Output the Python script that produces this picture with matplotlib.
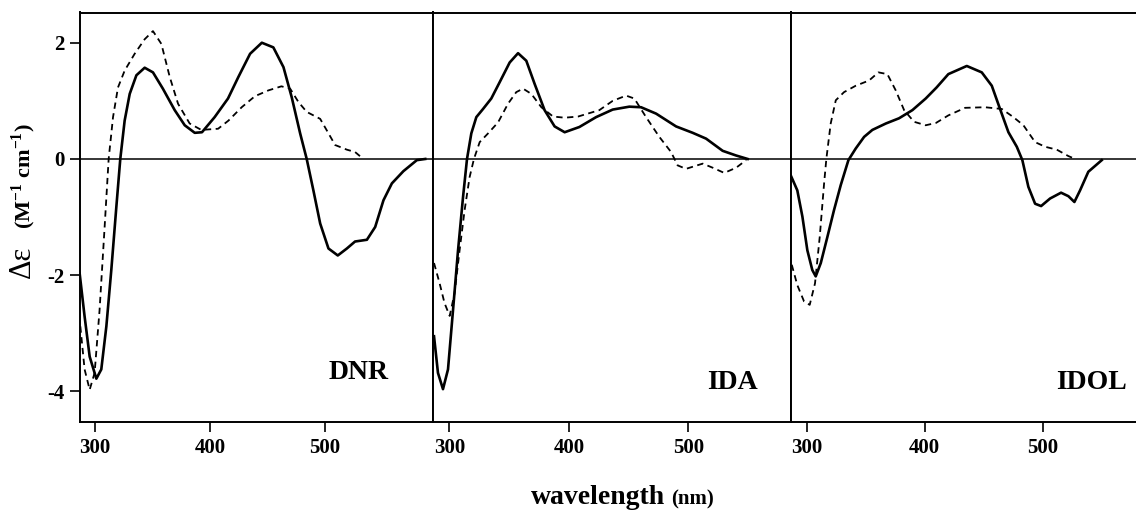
import matplotlib
matplotlib.use("Agg")
import matplotlib.pyplot as plt

# CD spectra (wavelength in nm, delta epsilon)
# solid = first spectrum, dashed = second spectrum
dnr_wl = [286.7, 291, 295.4, 301.2, 305.5, 309.9, 314.2, 318.6, 322, 325.8, 330.2, 336, 343.2,
          350.4, 359, 369.3, 378, 386.7, 393, 404, 415.6, 424.6, 434.8, 445, 455, 463.8, 471,
          478.3, 484, 489.8, 495.7, 502.9, 511, 518.9, 526, 536.3, 543.5, 550.7, 558, 568,
          579.7, 587]
dnr_de = [-1.97, -2.71, -3.40, -3.78, -3.62, -2.88, -1.91, -0.82, 0.0, 0.66, 1.12, 1.44, 1.57,
          1.49, 1.21, 0.84, 0.58, 0.45, 0.46, 0.72, 1.04, 1.41, 1.81, 2.0, 1.92, 1.58, 1.06,
          0.44, 0.0, -0.54, -1.11, -1.54, -1.66, -1.54, -1.42, -1.39, -1.17, -0.71, -0.42, -0.21,
          -0.02, 0.0]
dnr_wl2 = [287.3, 291, 295.4, 299.7, 304, 308.4, 311.9, 315.7, 320, 325.8, 334.5, 343.2, 350.4,
           357.7, 365, 372.2, 382.3, 392.4, 407, 416, 427.5, 439, 450.7, 462, 469.6, 476.8, 484,
           495.7, 501.5, 508.7, 518.9, 526, 532]
dnr_de2 = [-2.88, -3.62, -3.97, -3.68, -2.6, -1.17, 0.0, 0.72, 1.23, 1.52, 1.81, 2.06, 2.2,
           1.98, 1.41, 0.95, 0.61, 0.5, 0.52, 0.66, 0.89, 1.08, 1.18, 1.25, 1.21, 0.98, 0.81,
           0.69, 0.49, 0.24, 0.16, 0.12, 0.02]

ida_wl = [287.2, 290.5, 294.7, 298.9, 303.1, 307.3, 311.5, 314.8, 318.4, 322.6, 328.2, 335.1,
          342.1, 350.5, 357.5, 364.4, 371.4, 379.7, 388.1, 396.5, 408.8, 422.8, 436.7, 450.6,
          460.4, 473, 489.7, 503.6, 514.8, 528.7, 539.9, 549.6]
ida_de = [-3.05, -3.68, -3.96, -3.62, -2.6, -1.57, -0.65, 0.0, 0.44, 0.72, 0.86, 1.04,
          1.32, 1.66, 1.82, 1.69, 1.29, 0.84, 0.56, 0.46, 0.55, 0.72, 0.85, 0.9,
          0.89, 0.78, 0.56, 0.45, 0.35, 0.14, 0.06, 0.0]
ida_wl2 = [287.2, 291.9, 296, 300.3, 304.4, 308.6, 312.8, 317, 320.6, 325.4, 332.4, 340.8, 349.1,
           356, 361.7, 368.6, 377, 386.8, 396.5, 407.7, 425.5, 436.7, 447.9, 454.8, 464.6, 475.7,
           485.5, 491, 498, 512, 520.3, 530, 540, 548.3]
ida_de2 = [-1.79, -2.14, -2.48, -2.7, -2.31, -1.57, -0.88, -0.31, 0.0, 0.29, 0.44, 0.63, 0.95,
           1.15, 1.21, 1.12, 0.89, 0.73, 0.71, 0.73, 0.84, 1.0, 1.09, 1.04, 0.72, 0.38,
           0.12, -0.11, -0.17, -0.08, -0.15, -0.24, -0.15, -0.02]

idol_wl = [286.4, 292, 296.3, 300.5, 304.7, 307.6, 311.9, 317.5, 323.1, 328.8, 335.3, 341.5,
           348.6, 355.6, 367, 378.2, 389.5, 400.8, 410, 420, 435.6, 448.3, 456.8, 463.8, 470.9,
           478, 482.7, 487.8, 493.5, 498.6, 506.2, 515.5, 521.7, 526.8, 531.6, 538.6, 550]
idol_de = [-0.28, -0.54, -0.99, -1.57, -1.91, -2.02, -1.79, -1.34, -0.88, -0.45, -0.02, 0.18,
           0.38, 0.5, 0.61, 0.7, 0.84, 1.04, 1.23, 1.46, 1.6, 1.49, 1.26, 0.86, 0.46,
           0.21, -0.02, -0.48, -0.77, -0.81, -0.68, -0.58, -0.64, -0.74, -0.54, -0.22, -0.02]
idol_wl2 = [287.3, 292, 297.7, 302.5, 307, 311, 314.7, 316.6, 320.3, 324.6, 331.6, 341.5, 352.8,
            360.7, 368.3, 375.4, 382.5, 390.9, 400.8, 409.5, 420, 434.2, 451.1, 465.3, 475.1,
            483.6, 493.5, 502, 511.9, 521.7, 527.4]
idol_de2 = [-1.82, -2.17, -2.45, -2.51, -2.14, -1.34, -0.42, 0.0, 0.61, 1.01, 1.15, 1.26, 1.35,
            1.49, 1.46, 1.18, 0.84, 0.64, 0.58, 0.62, 0.75, 0.88, 0.89, 0.86, 0.72,
            0.58, 0.29, 0.21, 0.16, 0.05, 0.0]

names = ["DNR", "IDA", "IDOL"]
yticks = [-4, -2, 0, 2]
xticks = [300, 400, 500]

serif = "Liberation Serif"

fig = plt.figure(figsize=(11.36, 5.12), dpi=100)
bottom = 1 - 421.7 / 512
height = (421.7 - 12.5) / 512
edges = [80, 433.3, 790.7, 1136]
xlims = [(287, 594), (286.6, 585.6), (286.4, 579)]
label_pos = [(528.7, -3.67), (536.8, -3.85), (541.5, -3.85)]
series = [(dnr_wl, dnr_de, dnr_wl2, dnr_de2),
          (ida_wl, ida_de, ida_wl2, ida_de2),
          (idol_wl, idol_de, idol_wl2, idol_de2)]

for i in range(3):
    ax = fig.add_axes([edges[i] / 1136, bottom, (edges[i + 1] - edges[i]) / 1136, height])
    wl, de, wl2, de2 = series[i]
    ax.axhline(0, color="black", lw=1.1)
    ax.plot(wl2, de2, color="black", lw=1.3, ls=(0, (3.5, 2.5)))
    ax.plot(wl, de, color="black", lw=1.9, solid_joinstyle="round")
    ax.set_xlim(*xlims[i])
    ax.set_ylim(-4.52, 2.52)
    ax.set_xticks(xticks)
    ax.set_xticklabels([str(t) for t in xticks], fontfamily=serif, fontweight="bold", fontsize=15)
    ax.tick_params(axis="x", direction="out", length=7, width=1.2, pad=5)
    if i == 0:
        ax.set_yticks(yticks)
        ax.set_yticklabels([str(t) for t in yticks], fontfamily=serif, fontweight="bold", fontsize=15)
        ax.tick_params(axis="y", direction="out", length=7, width=1.2, pad=4)
    else:
        ax.set_yticks([])
    for s in ax.spines.values():
        s.set_linewidth(1.4)
    if i == 2:
        ax.spines["right"].set_visible(False)
    ax.text(label_pos[i][0], label_pos[i][1], names[i], ha="center", va="center",
            fontfamily=serif, fontweight="bold", fontsize=20)

fig.text(22 / 1136, 1 - 262 / 512, "\u0394\u03b5", rotation=90, ha="center", va="center",
         fontfamily=serif, fontsize=22)
fig.text(24 / 1136, 1 - 176 / 512, "(M$^{\\mathdefault{-1}}$ cm$^{\\mathdefault{-1}}$)", rotation=90,
         ha="center", va="center", fontfamily=serif, fontweight="bold", fontsize=16)
fig.text(598 / 1136, 1 - 497 / 512, "wavelength", ha="center", va="center",
         fontfamily=serif, fontweight="bold", fontsize=20)
fig.text(692 / 1136, 1 - 499 / 512, "(nm)", ha="center", va="center",
         fontfamily=serif, fontweight="bold", fontsize=15)

fig.savefig("out.png", dpi=100)
